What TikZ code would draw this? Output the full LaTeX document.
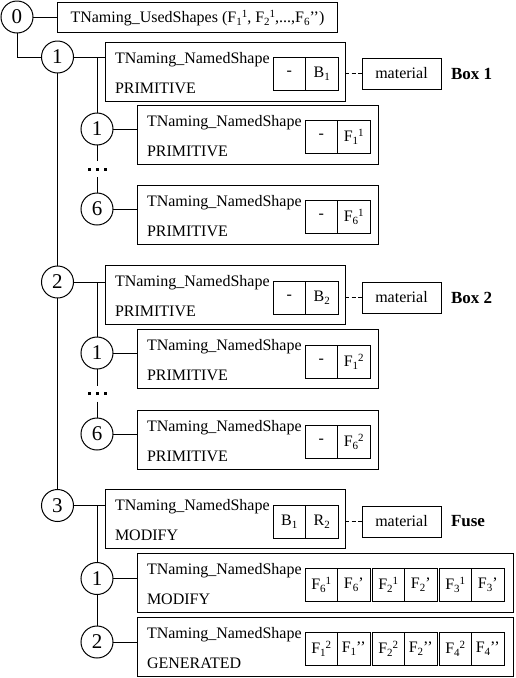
\documentclass[tikz,border=0pt]{standalone}
\usepackage{fontspec}
\setmainfont{Liberation Serif}
\usetikzlibrary{calc}
\newcommand\Lsub[1]{\raisebox{-3pt}{\fontsize{11}{11}\selectfont #1}}
\newcommand\Lsup[1]{\raisebox{5pt}{\fontsize{11}{11}\selectfont #1}}
\begin{document}
\begin{tikzpicture}[x=1pt,y=-1pt,line width=1pt,
  every node/.style={font=\fontsize{16}{19}\selectfont, outer sep=0pt},
  circ/.style={draw, circle, minimum size=32pt, inner sep=0pt, font=\fontsize{21}{21}\selectfont},
  boxnode/.style={draw, anchor=north west, inner sep=0pt, minimum height=59pt},
  cell/.style={draw, anchor=north west, inner sep=0pt, minimum width=32.5pt, minimum height=33pt},
  mat/.style={draw, anchor=north west, inner sep=0pt, minimum width=79pt, minimum height=31pt},
  lbl/.style={anchor=base west, inner sep=0pt},
  tag/.style={anchor=west, inner sep=0pt, font=\fontsize{17}{20}\selectfont\bfseries},
  dashconn/.style={dash pattern=on 4pt off 2.5pt},
  dotsnode/.style={inner sep=0pt, minimum height=16pt, minimum width=19pt}
]
\useasboundingbox (0,0) rectangle (515,678);

% root
\node[circ] (c0) at (17,17) {0};
\node[draw, anchor=north west, inner sep=0pt, minimum width=280pt, minimum height=30pt] (used) at (57,2) {};
\node[lbl] (usedt) at (70.5,22) {TNaming\_UsedShapes (F\Lsub{1}\Lsup{1}, F\Lsub{2}\Lsup{1},...,F\Lsub{6}’’)};

% ---------- level 1 ----------
\node[circ] (c1) at (57.5,57) {1};
\node[boxnode, minimum width=240pt] (L1) at (105,42) {};
\node[lbl] (L1a) at ($(L1.north west)+(10,21)$) {TNaming\_NamedShape};
\node[lbl] (L1b) at ($(L1.north west)+(10,51)$) {PRIMITIVE};
\node[cell] (L1x) at ($(L1.north west)+(168,15)$) {-};
\node[cell] (L1y) at (L1x.north east) {B\Lsub{1}};
\node[mat] (M1) at ($(L1.north west)+(257,16)$) {material};
\node[tag] (T1) at ($(M1.east)+(10,0)$) {Box 1};

\node[circ] (s11) at (97,129) {1};
\node[boxnode, minimum width=241pt] (S11) at (137,105) {};
\node[lbl] (S11a) at ($(S11.north west)+(10,21)$) {TNaming\_NamedShape};
\node[lbl] (S11b) at ($(S11.north west)+(10,51)$) {PRIMITIVE};
\node[cell] (S11x) at ($(S11.north west)+(168,15)$) {-};
\node[cell] (S11y) at (S11x.north east) {F\Lsub{1}\Lsup{1}};

\node[dotsnode] (d1) at (97,169) {\rule{3pt}{3pt}\hspace{5pt}\rule{3pt}{3pt}\hspace{5pt}\rule{3pt}{3pt}};

\node[circ] (s16) at (97,209) {6};
\node[boxnode, minimum width=241pt] (S16) at (137,185) {};
\node[lbl] (S16a) at ($(S16.north west)+(10,21)$) {TNaming\_NamedShape};
\node[lbl] (S16b) at ($(S16.north west)+(10,51)$) {PRIMITIVE};
\node[cell] (S16x) at ($(S16.north west)+(168,15)$) {-};
\node[cell] (S16y) at (S16x.north east) {F\Lsub{6}\Lsup{1}};

% ---------- level 2 ----------
\node[circ] (c2) at (57.5,282) {2};
\node[boxnode, minimum width=240pt] (L2) at (105,265) {};
\node[lbl] (L2a) at ($(L2.north west)+(10,21)$) {TNaming\_NamedShape};
\node[lbl] (L2b) at ($(L2.north west)+(10,51)$) {PRIMITIVE};
\node[cell] (L2x) at ($(L2.north west)+(168,16)$) {-};
\node[cell] (L2y) at (L2x.north east) {B\Lsub{2}};
\node[mat] (M2) at ($(L2.north west)+(257,17)$) {material};
\node[tag] (T2) at ($(M2.east)+(10,0)$) {Box 2};

\node[circ] (s21) at (97,353) {1};
\node[boxnode, minimum width=241pt] (S21) at (137,329) {};
\node[lbl] (S21a) at ($(S21.north west)+(10,21)$) {TNaming\_NamedShape};
\node[lbl] (S21b) at ($(S21.north west)+(10,51)$) {PRIMITIVE};
\node[cell] (S21x) at ($(S21.north west)+(168,16)$) {-};
\node[cell] (S21y) at (S21x.north east) {F\Lsub{1}\Lsup{2}};

\node[dotsnode] (d2) at (97,393.5) {\rule{3pt}{3pt}\hspace{5pt}\rule{3pt}{3pt}\hspace{5pt}\rule{3pt}{3pt}};

\node[circ] (s26) at (97,434) {6};
\node[boxnode, minimum width=241pt] (S26) at (137,410) {};
\node[lbl] (S26a) at ($(S26.north west)+(10,21)$) {TNaming\_NamedShape};
\node[lbl] (S26b) at ($(S26.north west)+(10,51)$) {PRIMITIVE};
\node[cell] (S26x) at ($(S26.north west)+(168,15)$) {-};
\node[cell] (S26y) at (S26x.north east) {F\Lsub{6}\Lsup{2}};

% ---------- level 3 ----------
\node[circ] (c3) at (57.5,505.5) {3};
\node[boxnode, minimum width=240pt] (L3) at (105,489) {};
\node[lbl] (L3a) at ($(L3.north west)+(10,21)$) {TNaming\_NamedShape};
\node[lbl] (L3b) at ($(L3.north west)+(10,51)$) {MODIFY};
\node[cell] (L3x) at ($(L3.north west)+(168,16)$) {B\Lsub{1}};
\node[cell] (L3y) at (L3x.north east) {R\Lsub{2}};
\node[mat] (M3) at ($(L3.north west)+(257,17)$) {material};
\node[tag] (T3) at ($(M3.east)+(10,0)$) {Fuse};

\node[circ] (s31) at (97,578.5) {1};
\node[boxnode, minimum width=376pt] (S31) at (137,553) {};
\node[lbl] (S31a) at ($(S31.north west)+(10,21)$) {TNaming\_NamedShape};
\node[lbl] (S31b) at ($(S31.north west)+(10,51)$) {MODIFY};
\node[cell] (S31x) at ($(S31.north west)+(168,15)$) {F\Lsub{6}\Lsup{1}};
\node[cell] (S31y) at (S31x.north east) {F\Lsub{6}’};
\node[cell] (S31u) at ($(S31.north west)+(235,15)$) {F\Lsub{2}\Lsup{1}};
\node[cell] (S31v) at (S31u.north east) {F\Lsub{2}’};
\node[cell] (S31p) at ($(S31.north west)+(302,15)$) {F\Lsub{3}\Lsup{1}};
\node[cell] (S31q) at (S31p.north east) {F\Lsub{3}’};

\node[circ] (s32) at (97,642) {2};
\node[boxnode, minimum width=376pt] (S32) at (137,617) {};
\node[lbl] (S32a) at ($(S32.north west)+(10,21)$) {TNaming\_NamedShape};
\node[lbl] (S32b) at ($(S32.north west)+(10,51)$) {GENERATED};
\node[cell] (S32x) at ($(S32.north west)+(168,15)$) {F\Lsub{1}\Lsup{2}};
\node[cell] (S32y) at (S32x.north east) {F\Lsub{1}’’};
\node[cell] (S32u) at ($(S32.north west)+(235,15)$) {F\Lsub{2}\Lsup{2}};
\node[cell] (S32v) at (S32u.north east) {F\Lsub{2}’’};
\node[cell] (S32p) at ($(S32.north west)+(302,15)$) {F\Lsub{4}\Lsup{2}};
\node[cell] (S32q) at (S32p.north east) {F\Lsub{4}’’};

% ---------- connectors ----------
\draw (c0) -- (used);
\draw (c0) |- (c1);
\draw (c1) -- (c2);
\draw (c2) -- (c3);
\draw (c1) -- (L1.west |- c1);
\draw (c2) -- (L2.west |- c2);
\draw (c3) -- (L3.west |- c3);

\coordinate (j1) at (s11 |- c1);
\draw (j1) -- (s11);
\draw (s11) -- (d1);
\draw (d1) -- (s16);
\draw (s11) -- (S11.west |- s11);
\draw (s16) -- (S16.west |- s16);

\coordinate (j2) at (s21 |- c2);
\draw (j2) -- (s21);
\draw (s21) -- (d2);
\draw (d2) -- (s26);
\draw (s21) -- (S21.west |- s21);
\draw (s26) -- (S26.west |- s26);

\coordinate (j3) at (s31 |- c3);
\draw (j3) -- (s31);
\draw (s31) -- (s32);
\draw (s31) -- (S31.west |- s31);
\draw (s32) -- (S32.west |- s32);

\draw[dashconn] (L1.east |- M1.west) -- (M1.west);
\draw[dashconn] (L2.east |- M2.west) -- (M2.west);
\draw[dashconn] (L3.east |- M3.west) -- (M3.west);
\end{tikzpicture}
\end{document}
